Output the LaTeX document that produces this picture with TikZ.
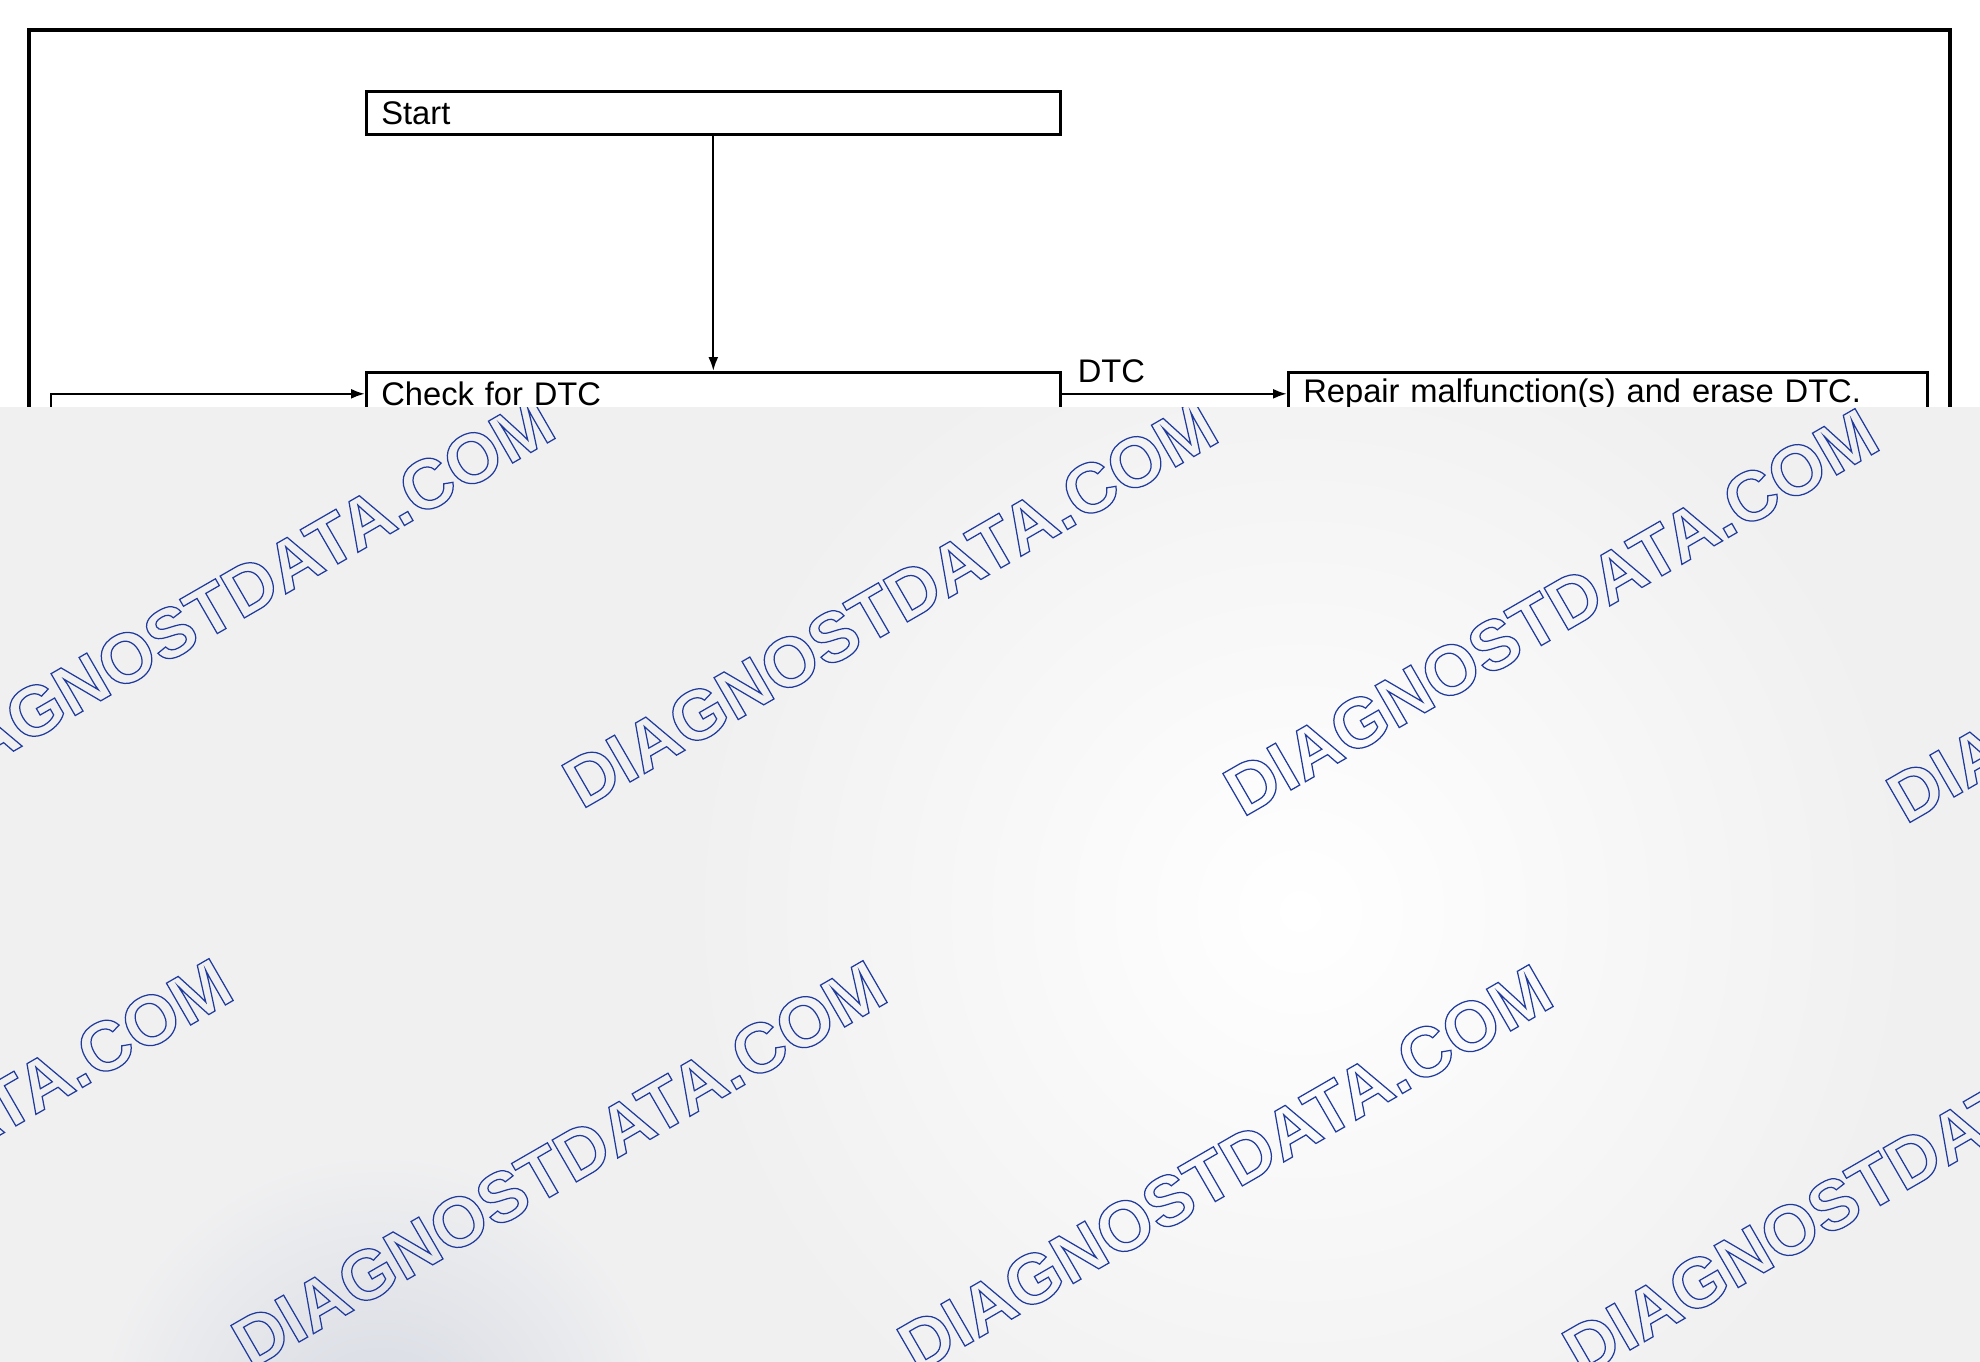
\documentclass[tikz,border=0pt]{standalone}
\usepackage{fontspec}
\setmainfont{Liberation Sans}
\usetikzlibrary{arrows.meta}

\definecolor{wmblue}{HTML}{1F3A9C}
\definecolor{wmgray}{HTML}{F0F0F1}
\definecolor{wmshade}{HTML}{D5D9E2}

% soft spots in the grey band
\pgfdeclareradialshading{wmlight}{\pgfpoint{0bp}{0bp}}{color(0bp)=(white); color(14bp)=(wmgray); color(50bp)=(wmgray)}
\pgfdeclareradialshading{wmdark}{\pgfpoint{0bp}{0bp}}{color(0bp)=(wmshade); color(18bp)=(wmgray); color(50bp)=(wmgray)}

% outlined watermark letters
\newcommand{\wmout}{\special{pdf:literal 1 Tr 0.35 w}}

\tikzset{
  flowbox/.style={draw, line width=0.75pt, anchor=north west, minimum height=0.43cm,
    inner xsep=0.15cm, inner ysep=0pt, align=left},
  flowline/.style={line width=0.65pt, -{Latex[length=1.4mm,width=1.0mm]}},
  wmark/.style={rotate=30, text=wmblue, font=\fontsize{20}{24}\selectfont\bfseries}
}

\begin{document}
\begin{tikzpicture}[font=\fontsize{9.3}{11}\selectfont]
  \useasboundingbox (0,0) rectangle (19.80,13.61);

  % outer frame
  \draw[line width=1.4pt] (0.29,-0.2) -- (0.29,13.31) -- (19.50,13.31) -- (19.50,-0.2);

  \node[flowbox, text width=6.64cm] (start) at (3.65,12.71) {Start};
  \node[flowbox, text width=6.64cm] (chk) at (3.65,9.90) {Check for DTC};
  \node[flowbox, text width=6.09cm] (rep) at (12.87,9.90) {Repair malfunction(s) and erase DTC.};

  \coordinate (loop) at (0.51,2.0);

  \draw[flowline] (start) -- (chk);
  \draw[flowline] (chk) -- node[pos=0, anchor=base west, yshift=0.11cm, inner xsep=0.15cm] (dtc) {DTC} (rep);
  \draw[flowline] (loop) |- (chk);

  % grey band over the lower part
  \fill[wmgray] (0,0) rectangle (19.80,9.54);
  \begin{scope}
    \clip (0,0) rectangle (19.80,9.54);
    \shade[shading=wmlight] (13.0,4.5) circle (11);
    \shade[shading=wmdark] (3.8,-0.8) circle (4);

    \node[wmark] (wm1) at (2.27,7.61) {\wmout DIAGNOSTDATA.COM};
    \node[wmark] (wm2) at (8.90,7.57) {\wmout DIAGNOSTDATA.COM};
    \node[wmark] (wm3) at (15.51,7.49) {\wmout DIAGNOSTDATA.COM};
    \node[wmark] (wm4) at (22.14,7.42) {\wmout DIAGNOSTDATA.COM};
    \node[wmark] (wm5) at (-0.95,1.99) {\wmout DIAGNOSTDATA.COM};
    \node[wmark] (wm6) at (5.59,1.97) {\wmout DIAGNOSTDATA.COM};
    \node[wmark] (wm7) at (12.25,1.93) {\wmout DIAGNOSTDATA.COM};
    \node[wmark] (wm8) at (18.90,1.89) {\wmout DIAGNOSTDATA.COM};
  \end{scope}
\end{tikzpicture}
\end{document}
